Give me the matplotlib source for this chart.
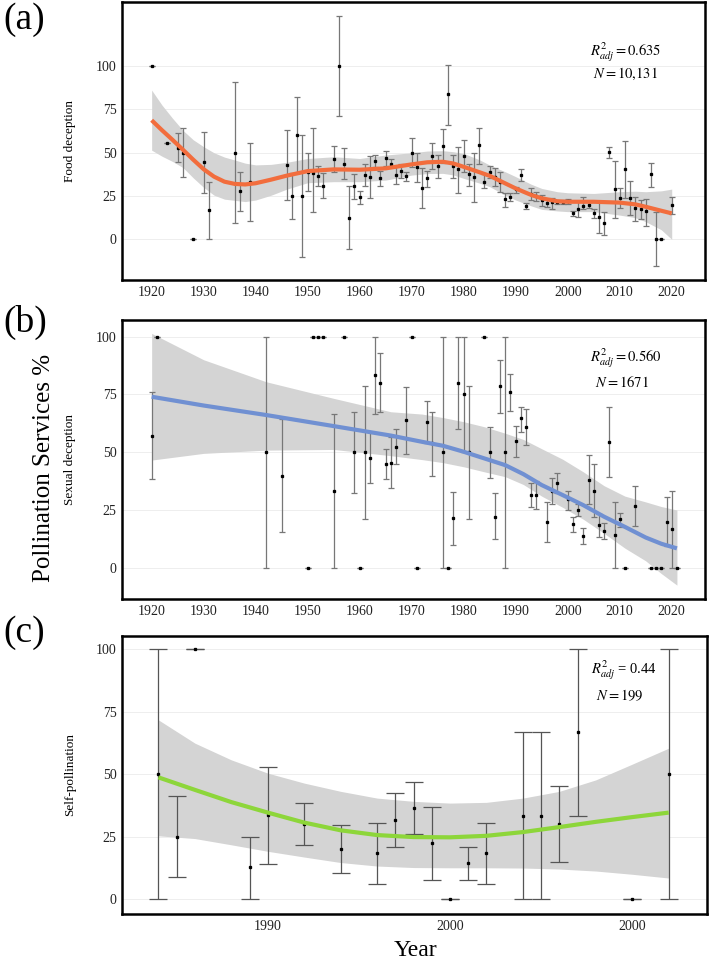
import numpy as np
import matplotlib.pyplot as plt

plt.rcParams['font.family'] = ['Liberation Serif', 'DejaVu Serif']
plt.rcParams['mathtext.fontset'] = 'stix'

# --- (a) Food deception: yearly means with error bars ---
food_year = [1920, 1923, 1925, 1926, 1928, 1930, 1931, 1936, 1937, 1939, 1946, 1947, 1948, 1949,
             1950, 1951, 1952, 1953, 1955, 1956, 1957, 1958, 1959, 1960, 1961, 1962, 1963, 1964,
             1965, 1966, 1967, 1968, 1969, 1970, 1971, 1972, 1973, 1974, 1975, 1976, 1977, 1978,
             1979, 1980, 1981, 1982, 1983, 1984, 1985, 1986, 1987, 1988, 1989, 1990, 1991, 1992,
             1993, 1994, 1995, 1996, 1997, 1998, 1999, 2000, 2001, 2002, 2003, 2004, 2005, 2006,
             2007, 2008, 2009, 2010, 2011, 2012, 2013, 2014, 2015, 2016, 2017, 2018, 2020]
food_mean = [100, 55.8, 52.9, 50, 0, 44.4, 16.9, 50, 27.9, 33.3, 42.9, 25.2, 60.2, 25.2,
             39, 38.5, 36.5, 31, 46.3, 100, 43.8, 12.5, 30.8, 24.2, 37.1, 35.8, 45.4, 35.2,
             46.7, 43.8, 37.1, 39.6, 36.5, 50, 41.9, 29.4, 35.2, 48.3, 42.5, 54, 83.7, 42.5,
             40.4, 48.1, 37.7, 36.2, 54.4, 33.3, 39, 36.2, 33.3, 23.1, 24.6, 28.8, 37.1, 19.2,
             26, 25, 22.7, 20.8, 21.3, 21.7, 21.7, 22.1, 15, 17.5, 19.4, 19.8, 15, 12.7,
             9.6, 50.2, 28.8, 24, 40.4, 24, 17.9, 17.3, 16.5, 37.5, 0, 0, 19.8]
food_lo = [100, 55.8, 44.4, 35.8, 0, 26.5, 0, 9.2, 16.5, 10.8, 22.7, 11.7, 38.1, -10,
           28.1, 15.6, 30.8, 23.7, 39, 71.2, 34.6, -5.8, 23.3, 20.4, 31, 23.7, 41.9, 30.8,
           42.3, 41.9, 31.9, 35.2, 33.8, 41.9, 33.3, 17.9, 30, 40.4, 35.6, 44.2, 66.3, 35.6,
           26.9, 39, 30.8, 21.7, 43.8, 29.4, 35.2, 31, 27.5, 18.8, 22.3, 26.9, 33.7, 17.3,
           22.7, 22.1, 19.4, 18.5, 17.3, 20.4, 20.4, 20.4, 13.5, 13.1, 17.3, 17.9, 12.5, 3.8,
           2.5, 46.7, 12.5, 17.9, 23.7, 14, 10.6, 11.5, 7.7, 30, -15.4, 0, 14.6]
food_hi = [100, 55.8, 61.2, 64.4, 0, 62.1, 33.3, 91, 39, 55.8, 63.1, 38.5, 82.3, 60.2,
           50, 64.4, 42.3, 38.1, 53.8, 128.8, 52.9, 30.8, 37.5, 27.9, 43.3, 48.1, 48.7, 39.6,
           51.2, 46.2, 42.3, 43.8, 39, 58.3, 50, 41, 39.6, 55.8, 48.7, 63.5, 100.6, 49,
           53.5, 57.3, 43.8, 49.6, 64.4, 37.5, 42.3, 41, 39, 26.9, 26.9, 30, 40.6, 21.2,
           29.4, 27.5, 25.6, 23.1, 24, 22.7, 22.7, 23.1, 16.3, 22.1, 24.2, 21.3, 17.3, 21.3,
           16, 53.5, 45.2, 29.8, 56.7, 33.7, 24.6, 22.7, 23.1, 44.2, 15.6, 0, 24.6]

# smoother fit and its confidence band
food_fit_year = [1920, 1922, 1924, 1926, 1928, 1930, 1932, 1934, 1936, 1938, 1940, 1943, 1946,
                 1950, 1955, 1960, 1965, 1970, 1973, 1976, 1978, 1980, 1983, 1985, 1988, 1990,
                 1993, 1995, 1998, 2000, 2005, 2010, 2013, 2015, 2018, 2020]
food_fit = [68.8, 63.0, 57.5, 51.8, 46.0, 40.5, 36.2, 33.3, 32.0, 31.7, 32.4, 34.5, 36.8,
            39.4, 40.4, 40.2, 41.0, 43.3, 44.5, 44.8, 43.8, 41.9, 38.8, 36.7, 32.3, 29.4,
            25.6, 23.7, 22.0, 21.7, 21.7, 21.2, 20.2, 18.8, 16.5, 15.0]
food_fit_hi = [86.2, 77.5, 70.0, 63.0, 57.5, 53.5, 50.0, 47.5, 45.8, 44.0, 43.0, 43.3, 44.5,
               46.7, 47.7, 46.7, 48.7, 50.0, 51.0, 51.2, 50.6, 49.6, 46.0, 42.9, 39.0, 36.2,
               31.8, 29.4, 27.5, 26.9, 26.5, 27.5, 27.8, 27.5, 28.0, 29.0]
food_fit_lo = [51.5, 48.0, 45.0, 41.5, 35.5, 30.0, 25.5, 23.2, 22.5, 21.8, 22.7, 25.5, 29.0,
               32.7, 33.3, 33.3, 34.2, 37.1, 38.0, 38.1, 37.2, 35.2, 32.5, 30.4, 25.5, 22.7,
               19.3, 17.3, 16.4, 16.0, 16.0, 14.0, 12.5, 10.2, 5.5, 0.0]

# --- (b) Sexual deception ---
sex_year = [1920, 1921, 1942, 1945, 1950, 1951, 1952, 1953, 1955, 1957, 1959, 1960, 1961, 1962,
            1963, 1964, 1965, 1966, 1967, 1969, 1970, 1971, 1973, 1974, 1976, 1977, 1978, 1979,
            1980, 1981, 1984, 1985, 1986, 1987, 1988, 1989, 1990, 1991, 1992, 1993, 1994, 1996,
            1997, 1998, 2000, 2001, 2002, 2003, 2004, 2005, 2006, 2007, 2008, 2009, 2010, 2011,
            2013, 2016, 2017, 2018, 2019, 2020, 2021]
sex_mean = [57.1, 100, 50, 39.8, 0, 100, 100, 100, 33.2, 100, 49.9, 0, 49.9, 47.6,
            83.4, 80.1, 44.9, 45.5, 52.4, 63.9, 100, 0, 63.2, 53.8, 49.9, 0, 21.4, 80.1,
            75, 49.9, 100, 49.9, 22.1, 78.6, 49.9, 75.9, 55, 64.6, 61, 31.5, 31.7, 19.9,
            33.3, 36.5, 29.6, 18.9, 25, 13.7, 38, 33.3, 18.5, 15.9, 54.5, 14.4, 21, 0,
            26.8, 0, 0, 0, 19.9, 16.6, 0]
sex_lo = [38.2, 100, 0, 15.3, 0, 100, 100, 100, 0, 100, 32.2, 0, 21.1, 36.5,
          66.5, 67.2, 38.2, 34.6, 44.9, 49.1, 100, 0, 54.1, 39.8, 0, 0, 9.8, 59.9,
          49.9, 21.1, 100, 38.7, 12.3, 67.1, 0, 67.8, 48.1, 58.9, 53.1, 26.1, 25.4, 11,
          27.6, 32.2, 25, 15.6, 22.4, 10.2, 27.6, 21.8, 13.4, 12.3, 39.4, 0, 17.7, 0,
          18, 0, 0, 0, 9.4, 0, 0]
sex_hi = [75.9, 100, 100, 64.4, 0, 100, 100, 100, 66.5, 100, 67.5, 0, 78.8, 58.6,
          100, 92.8, 51.4, 56.4, 59.9, 78.1, 100, 0, 72.3, 67.5, 100, 0, 32.6, 100,
          100, 78.8, 100, 61, 32.2, 89.9, 100, 83.8, 61.5, 69.7, 68.5, 36.5, 37.5, 28.6,
          39, 40.8, 33.3, 22.1, 27.6, 17, 48.8, 44.7, 23.1, 19.5, 69.4, 28.3, 23.8, 0,
          35.5, 0, 0, 0, 30.7, 33.2, 0]

sex_fit_year = [1920, 1930, 1942, 1955, 1966, 1972, 1976, 1980, 1984, 1988, 1991.5, 1995,
                1999, 2003, 2007, 2011, 2015, 2018, 2021]
sex_fit = [74.0, 70.2, 66.1, 61.3, 57.2, 54.5, 52.8, 50.2, 47.3, 44.4, 40.5, 35.8,
           31.5, 27.1, 22.1, 17.7, 13.1, 10.4, 8.4]
sex_fit_hi = [101.4, 90.0, 80.5, 73.3, 67.5, 66.5, 65.0, 63.2, 61.0, 58.2, 55.5, 51.5,
              47.0, 41.5, 35.5, 31.0, 28.5, 26.5, 25.0]
sex_fit_lo = [46.6, 49.5, 50.9, 51.2, 48.5, 46.8, 45.5, 43.7, 41.5, 39.4, 36.0, 31.0,
              26.2, 21.0, 14.9, 8.5, 3.0, -2.5, -7.5]

# --- (c) Self-pollination ---
self_year = [1984, 1985, 1986, 1989, 1990, 1992, 1994, 1996, 1997, 1998, 1999, 2000, 2001,
             2002, 2004, 2005, 2006, 2007, 2010, 2012]
self_mean = [50, 25, 100, 12.7, 33.5, 30, 20.1, 18.3, 31.7, 36.4, 22.4, 0, 14.4,
             18.3, 33.3, 33.3, 30, 66.7, 0, 50]
self_lo = [0, 8.8, 100, 0, 13.9, 21.6, 10.5, 6, 20.7, 25.9, 7.6, 0, 7.6,
           6, 0, 0, 14.8, 33.3, 0, 0]
self_hi = [100, 41.3, 100, 25, 53, 38.5, 29.5, 30.4, 42.5, 46.8, 36.8, 0, 20.9,
           30.4, 66.7, 66.7, 45.3, 100, 0, 100]

self_fit_year = [1984, 1986, 1988, 1990, 1992, 1994, 1996, 1998, 2000, 2002, 2004, 2006,
                 2008, 2010, 2012]
self_fit = [48.7, 43.7, 38.8, 34.6, 30.6, 27.5, 25.6, 24.8, 24.7, 25.3, 26.8, 28.8,
            30.9, 32.8, 34.6]
self_fit_hi = [71.7, 62.4, 55.7, 50.4, 46.4, 43.1, 40.4, 39.1, 38.4, 38.7, 40.4, 43.1,
               47.7, 54.0, 60.4]
self_fit_lo = [25.3, 24.2, 21.7, 19.1, 16.8, 14.6, 13.2, 12.6, 12.5, 12.5, 12.4, 12.0,
               11.2, 9.9, 8.4]

y_ticks = [0, 25, 50, 75, 100]


def draw_panel(ax, year, mean, lo, hi, fy, fit, flo, fhi, color, capsize, bar_color):
    mean = np.array(mean, dtype=float)
    yerr = [mean - np.array(lo, dtype=float), np.array(hi, dtype=float) - mean]
    for t in y_ticks:
        ax.axhline(t, color='#eeeeee', lw=0.7, zorder=0)
    ax.fill_between(fy, flo, fhi, color='#d4d4d4', lw=0, zorder=1)
    ax.errorbar(year, mean, yerr=yerr, fmt='s', ms=1.4, mfc='black', mec='black',
                ecolor=bar_color, elinewidth=0.9, capsize=capsize, capthick=0.9, zorder=2)
    ax.plot(fy, fit, color=color, lw=3, solid_capstyle='butt', zorder=3)
    ax.set_yticks(y_ticks)
    ax.tick_params(length=0, labelsize=10, pad=4, colors='#222222')
    for s in ax.spines.values():
        s.set_linewidth(1.8)
        s.set_color('black')


fig = plt.figure(figsize=(7.09, 9.64), dpi=100)
W, H = 709.0, 964.0
ax1 = fig.add_axes([122 / W, 1 - 280 / H, 583 / W, 278 / H])
ax2 = fig.add_axes([122 / W, 1 - 599 / H, 583 / W, 279 / H])
ax3 = fig.add_axes([122 / W, 1 - 914 / H, 585 / W, 278 / H])

draw_panel(ax1, food_year, food_mean, food_lo, food_hi, food_fit_year, food_fit,
           food_fit_lo, food_fit_hi, '#f26d3d', 2.0, '#777777')
ax1.set_xlim(1914.3, 2026.4)
ax1.set_ylim(-23.5, 137.1)
ax1.set_xticks(range(1920, 2021, 10))

draw_panel(ax2, sex_year, sex_mean, sex_lo, sex_hi, sex_fit_year, sex_fit,
           sex_fit_lo, sex_fit_hi, '#7090d2', 2.4, '#777777')
ax2.set_xlim(1914.3, 2026.4)
ax2.set_ylim(-13.5, 107.2)
ax2.set_xticks(range(1920, 2021, 10))

draw_panel(ax3, self_year, self_mean, self_lo, self_hi, self_fit_year, self_fit,
           self_fit_lo, self_fit_hi, '#8dd63a', 6.5, '#555555')
ax3.set_xlim(1982.0, 2014.1)
ax3.set_ylim(-6.0, 105.3)
ax3.set_xticks([1990, 2000, 2010])
ax3.set_xticklabels(['1990', '2000', '2000'])

# axis labels of each panel
for ax, lab in [(ax1, 'Food deception'), (ax2, 'Sexual deception'), (ax3, 'Self-pollination')]:
    ax.set_ylabel(lab, fontsize=9.5)
    ax.yaxis.set_label_coords(-0.079, 0.5)

# model statistics: the R line sits a bit higher so its subscript clears the N line
stats = [(ax1, r'$R^{2}_{adj} = 0.635$', r'$N = 10{,}131$', 0.864, 0.818, 0.864, 0.742),
         (ax2, r'$R^{2}_{adj} = 0.560$', r'$N = 1671$', 0.864, 0.862, 0.858, 0.775),
         (ax3, r'$R^{2}_{adj}$ = 0.44', r'$N = 199$', 0.858, 0.875, 0.851, 0.785)]
for ax, r_txt, n_txt, rx, ry, nx, ny in stats:
    ax.text(rx, ry, r_txt, transform=ax.transAxes, ha='center', va='center', fontsize=10.5)
    ax.text(nx, ny, n_txt, transform=ax.transAxes, ha='center', va='center', fontsize=10.5)

fig.text(3 / W, 1 - 2 / H, '(a)', fontsize=27, ha='left', va='top')
fig.text(3 / W, 1 - 305 / H, '(b)', fontsize=27, ha='left', va='top')
fig.text(3 / W, 1 - 615 / H, '(c)', fontsize=27, ha='left', va='top')
fig.text(44 / W, 1 - 468 / H, 'Pollination Services %', fontsize=18, rotation=90,
         ha='center', va='center')
fig.text(415 / W, 1 - 950 / H, 'Year', fontsize=17, ha='center', va='center')

fig.savefig('out.png', dpi=100)
